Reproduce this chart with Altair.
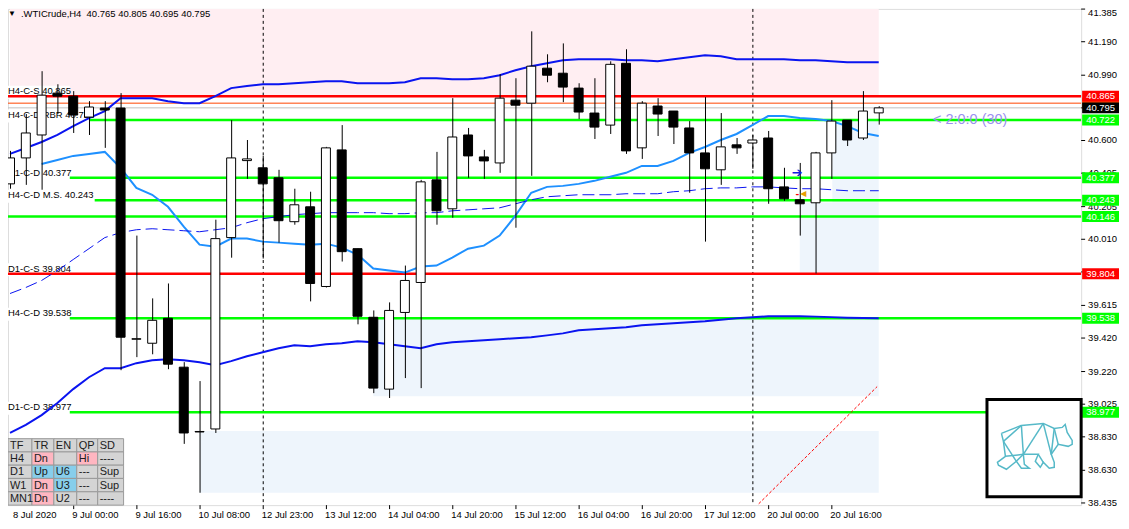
import altair as alt
import pandas as pd

# ---------------- chart data ----------------
bar_index = list(range(56))
opens = [40.341, 40.496, 40.633, 40.883, 40.865, 40.740, 40.794, 40.794, 39.413, 39.389,
         39.538, 39.246, 38.859, 38.877, 40.020, 40.480, 40.437, 40.377, 40.115, 40.204,
         39.728, 40.544, 39.954, 39.544, 39.115, 39.573, 39.752, 40.365, 40.192, 40.633,
         40.502, 40.466, 40.841, 40.823, 41.032, 41.002, 40.913, 40.764, 40.692, 41.061,
         40.556, 40.806, 40.776, 40.675, 40.526, 40.425, 40.574, 40.585, 40.615, 40.323,
         40.246, 40.228, 40.526, 40.722, 40.615, 40.765]
highs = [40.538, 40.758, 41.014, 40.936, 40.895, 40.835, 40.835, 40.883, 40.032, 39.657,
         39.746, 39.276, 39.163, 40.127, 40.722, 40.603, 40.508, 40.425, 40.312, 40.294,
         40.562, 40.692, 39.954, 39.585, 39.633, 39.853, 40.365, 40.532, 40.853, 40.675,
         40.544, 40.996, 40.972, 41.252, 41.115, 41.180, 40.942, 40.972, 41.073, 41.145,
         40.835, 40.853, 40.776, 40.716, 40.859, 40.764, 40.615, 40.633, 40.657, 40.437,
         40.466, 40.532, 40.841, 40.722, 40.895, 40.805]
lows = [40.312, 40.335, 40.306, 40.758, 40.645, 40.633, 40.556, 39.228, 39.306, 39.323,
        39.234, 38.788, 38.496, 38.853, 39.900, 40.371, 39.895, 39.990, 40.097, 39.639,
        39.722, 39.877, 39.502, 39.091, 39.062, 39.181, 39.121, 40.097, 40.139, 40.377,
        40.371, 40.407, 40.079, 40.389, 40.948, 40.829, 40.728, 40.609, 40.639, 40.520,
        40.490, 40.627, 40.579, 40.288, 39.996, 40.335, 40.520, 40.431, 40.222, 40.240,
        40.032, 39.806, 40.371, 40.567, 40.603, 40.695]
closes = [40.496, 40.645, 40.871, 40.865, 40.752, 40.800, 40.782, 39.425, 39.416, 39.526,
          39.264, 38.853, 38.862, 40.014, 40.496, 40.490, 40.341, 40.121, 40.216, 39.746,
          40.556, 39.936, 39.550, 39.121, 39.585, 39.764, 40.353, 40.180, 40.621, 40.508,
          40.478, 40.853, 40.811, 41.044, 40.990, 40.919, 40.770, 40.680, 41.055, 40.538,
          40.823, 40.758, 40.680, 40.526, 40.431, 40.562, 40.556, 40.603, 40.312, 40.252,
          40.222, 40.526, 40.716, 40.603, 40.776, 40.795]

upper_band = [40.520, 40.555, 40.591, 40.633, 40.686, 40.734, 40.776, 40.853, 40.853, 40.853,
              40.835, 40.823, 40.823, 40.865, 40.913, 40.925, 40.936, 40.936, 40.942, 40.948,
              40.954, 40.954, 40.942, 40.942, 40.942, 40.948, 40.972, 40.972, 40.966, 40.966,
              40.972, 40.990, 41.020, 41.044, 41.061, 41.079, 41.085, 41.085, 41.085, 41.079,
              41.079, 41.073, 41.085, 41.097, 41.109, 41.103, 41.085, 41.085, 41.085, 41.085,
              41.079, 41.079, 41.073, 41.067, 41.067, 41.067]
lower_band = [38.853, 38.901, 38.960, 39.032, 39.115, 39.186, 39.240, 39.240, 39.270, 39.288,
              39.294, 39.288, 39.276, 39.258, 39.282, 39.311, 39.335, 39.359, 39.377, 39.371,
              39.383, 39.389, 39.401, 39.395, 39.383, 39.371, 39.359, 39.383, 39.395, 39.401,
              39.407, 39.413, 39.419, 39.425, 39.436, 39.448, 39.466, 39.472, 39.478, 39.484,
              39.496, 39.502, 39.508, 39.514, 39.520, 39.530, 39.538, 39.544, 39.550, 39.550,
              39.550, 39.548, 39.545, 39.542, 39.540, 39.538]
mid_band_index = list(range(2, 56))
mid_band = [40.460, 40.484, 40.508, 40.520, 40.532, 40.436, 40.317, 40.276, 40.204, 40.085,
            39.978, 39.966, 40.014, 40.014, 39.996, 39.990, 39.984, 39.978, 39.984, 39.960,
            39.919, 39.835, 39.823, 39.811, 39.847, 39.853, 39.901, 39.954, 39.972, 40.032,
            40.151, 40.288, 40.323, 40.329, 40.341, 40.359, 40.383, 40.407, 40.448, 40.448,
            40.478, 40.526, 40.561, 40.603, 40.639, 40.692, 40.746, 40.746, 40.734, 40.728,
            40.716, 40.686, 40.645, 40.627]
dashed_band = [39.686, 39.722, 39.764, 39.823, 39.889, 39.954, 40.020, 40.050, 40.067, 40.073,
               40.067, 40.061, 40.055, 40.067, 40.079, 40.109, 40.133, 40.145, 40.157, 40.163,
               40.169, 40.169, 40.169, 40.169, 40.163, 40.163, 40.169, 40.169, 40.180, 40.186,
               40.192, 40.198, 40.222, 40.246, 40.264, 40.270, 40.276, 40.276, 40.276, 40.282,
               40.282, 40.282, 40.294, 40.300, 40.312, 40.317, 40.317, 40.323, 40.323, 40.317,
               40.312, 40.312, 40.306, 40.300, 40.300, 40.300]

# horizontal levels
green_levels = [40.722, 40.377, 40.243, 40.146, 39.538, 38.977]
red_levels = [40.865, 39.804]
orange_level = [40.823]
bid_level = [40.795]

label_texts = ["H4-C-S 40.865", "H4-C-D RBR 40.722", "D1-C-D 40.377", "H4-C-D M.S. 40.243",
               "D1-C-S 39.804", "H4-C-D 39.538", "D1-C-D 38.977"]
label_prices = [40.865, 40.722, 40.377, 40.243, 39.804, 39.538, 38.977]

# price tags on the right axis (the orange one is almost hidden behind its neighbours)
tag_prices = [40.823, 40.865, 40.795, 40.722, 40.377, 40.243, 40.146, 39.804, 39.538, 38.977]
tag_colors = ["#FF4500", "#FF0000", "#000000", "#00FF00", "#00FF00", "#00FF00", "#00FF00",
              "#FF0000", "#00FF00", "#00FF00"]
tag_show_text = [False, True, True, True, True, True, True, True, True, True]

# zones (bar index start/end, price low/high)
zone_k0 = [0, 23, 12, 50, 52.06]
zone_k1 = [55, 55, 55, 55, 55]
zone_p0 = [40.865, 39.073, 38.496, 39.804, 40.230]
zone_p1 = [41.40, 39.538, 38.865, 40.230, 40.722]
zone_col = ["#FFEEF2", "#EEF5FC", "#EEF5FC", "#EEF5FC", "#EEF5FC"]

separator_index = [16, 47]
trend_index = [47.4, 54.9]
trend_price = [38.43, 39.13]

time_tick_index = [0, 4, 8, 12, 16, 20, 24, 28, 32, 36, 40, 44, 48, 52]
time_tick_labels = ["8 Jul 2020", "9 Jul 00:00", "9 Jul 16:00", "10 Jul 08:00", "12 Jul 23:00",
                    "13 Jul 12:00", "14 Jul 04:00", "14 Jul 20:00", "15 Jul 12:00",
                    "16 Jul 04:00", "16 Jul 20:00", "17 Jul 12:00", "20 Jul 00:00",
                    "20 Jul 16:00"]
price_ticks = [41.385, 41.190, 40.990, 40.795, 40.600, 40.405, 40.205, 40.010, 39.815, 39.615,
               39.420, 39.220, 39.025, 38.830, 38.630, 38.435]

table_header = ["TF", "TR", "EN", "QP", "SD"]
table_rows = [["H4", "Dn", "", "Hi", "----"],
              ["D1", "Up", "U6", "---", "Sup"],
              ["W1", "Dn", "U3", "---", "Sup"],
              ["MN1", "Dn", "U2", "---", "----"]]
table_colors = [["g", "p", "g", "p", "g"],
                ["g", "b", "b", "g", "g"],
                ["g", "p", "b", "g", "g"],
                ["g", "p", "g", "g", "g"]]

title_text = ".WTICrude,H4\u00a0 40.765 40.805 40.695 40.795"

# bear logo outline (box-local units)
bear_paths = [
    [(15, 34), (35, 26), (57, 24), (68, 29), (76, 28), (79, 25), (81, 33), (86, 41), (86, 45),
     (82, 47), (72, 45), (65, 55), (68, 63), (68, 68), (63, 69), (57, 63), (54, 68), (49, 62),
     (52, 55), (37, 55), (38, 65), (43, 69), (35, 69), (30, 62), (20, 70), (12, 66), (11, 63),
     (19, 57), (17, 42), (15, 34)],
    [(35, 26), (37, 55)], [(57, 24), (37, 55)], [(57, 24), (65, 55)], [(68, 29), (72, 45)],
    [(68, 29), (65, 55)], [(17, 42), (35, 26)], [(19, 57), (37, 55)], [(17, 42), (30, 62)],
    [(52, 55), (57, 63)], [(37, 55), (30, 62)],
]

# ---------------- layout ----------------
W, H = 1077, 498
FONT = "Liberation Sans"
xs = alt.Scale(domain=[0.1875, 67.5], nice=False, zero=False)
ys = alt.Scale(domain=[38.422, 41.386], nice=False, zero=False)


def X(f):
    return alt.X(f, type="quantitative", scale=xs, axis=None)


def Y(f):
    return alt.Y(f, type="quantitative", scale=ys, axis=None)


candles = pd.DataFrame({"k": bar_index, "open": opens, "high": highs, "low": lows,
                        "close": closes})
candles["fill"] = ["#FFFFFF" if c >= o else "#000000" for o, c in zip(opens, closes)]

zones = pd.DataFrame({"k0": zone_k0, "k1": zone_k1, "p0": zone_p0, "p1": zone_p1,
                      "col": zone_col})
zone_layer = alt.Chart(zones).mark_rect(clip=True).encode(
    x=X("k0"), x2=alt.X2("k1"), y=Y("p0"), y2=alt.Y2("p1"),
    color=alt.Color("col:N", scale=None))

# right price axis drawn as marks (ticks + labels), behind the tags
pt = pd.DataFrame({"p": price_ticks, "t": [f"{v:.3f}" for v in price_ticks]})
pt["top"] = [v == max(price_ticks) for v in price_ticks]
ptick_layer = alt.Chart(pt).mark_rule(color="black", strokeWidth=1).encode(
    y=Y("p"), x=alt.value(W), x2=alt.value(W + 4))
plabel_layer = alt.Chart(pt[~pt["top"]]).mark_text(
    align="left", baseline="middle", font=FONT, fontSize=9.5, color="black").encode(
    y=Y("p"), x=alt.value(W + 7), text="t:N")
plabel_top = alt.Chart(pt[pt["top"]]).mark_text(
    align="left", baseline="top", dy=-1, font=FONT, fontSize=9.5, color="black").encode(
    y=Y("p"), x=alt.value(W + 7), text="t:N")

sep_layer = alt.Chart(pd.DataFrame({"k": separator_index})).mark_rule(
    color="black", strokeWidth=1, strokeDash=[3, 3], xOffset=0.5).encode(
    x=X("k"), y=alt.value(0), y2=alt.value(H))


def hlines(prices, color, width):
    return alt.Chart(pd.DataFrame({"p": prices})).mark_rule(
        color=color, strokeWidth=width).encode(y=Y("p"), x=alt.value(0), x2=alt.value(W))


thin_layers = [hlines(orange_level, "#FF4500", 1), hlines(bid_level, "#C0C0C0", 1),
               hlines(green_levels, "#00FF00", 2.5)]

label_layers = []
for t, p in zip(label_texts, label_prices):
    d = pd.DataFrame({"p": [p], "t": [t]})
    label_layers.append(alt.Chart(d).mark_rule(color="white", strokeWidth=13, yOffset=-4).encode(
        y=Y("p"), x=alt.value(0), x2=alt.value(len(t) * 5 - 3)))
    label_layers.append(alt.Chart(d).mark_text(
        align="left", baseline="alphabetic", dy=-2, font=FONT, fontSize=9.5, color="black").encode(
        y=Y("p"), x=alt.value(0), text="t:N"))

red_layer = hlines(red_levels, "#FF0000", 2.5)

bands = pd.DataFrame({"k": bar_index, "up": upper_band, "lo": lower_band, "da": dashed_band})
mid = pd.DataFrame({"k": mid_band_index, "mi": mid_band})
band_layers = [
    alt.Chart(bands).mark_line(color="#0A14F0", strokeWidth=2, clip=True).encode(x=X("k"), y=Y("up")),
    alt.Chart(bands).mark_line(color="#0A14F0", strokeWidth=2, clip=True).encode(x=X("k"), y=Y("lo")),
    alt.Chart(mid).mark_line(color="#1E90FF", strokeWidth=2, clip=True).encode(x=X("k"), y=Y("mi")),
    alt.Chart(bands).mark_line(color="#0A14F0", strokeWidth=1, strokeDash=[12, 5], clip=True).encode(
        x=X("k"), y=Y("da")),
]

wick_layer = alt.Chart(candles).mark_rule(color="black", strokeWidth=1, xOffset=0.5, clip=True).encode(
    x=X("k"), y=Y("low"), y2=alt.Y2("high"))
body_layer = alt.Chart(candles).mark_bar(size=9, stroke="black", strokeWidth=1, clip=True).encode(
    x=X("k"), y=Y("open"), y2=alt.Y2("close"), fill=alt.Fill("fill:N", scale=None))

trend_layer = alt.Chart(pd.DataFrame({"k": trend_index, "p": trend_price})).mark_line(
    color="#FF0000", strokeWidth=1, strokeDash=[3, 2], clip=True).encode(x=X("k"), y=Y("p"))

marker_layer = alt.Chart(pd.DataFrame({
    "k": [49.84, 50.22, 49.85], "p": [40.404, 40.279, 40.279], "t": ["\u2794", "\u25c0", "-"],
    "c": ["#1020E0", "#E8A000", "#FF0000"], "s": [13, 8, 9]})).mark_text(
    font="DejaVu Sans", fontWeight="bold").encode(
    x=X("k"), y=Y("p"), text="t:N", color=alt.Color("c:N", scale=None),
    size=alt.Size("s:Q", scale=None))

note_layer = alt.Chart(pd.DataFrame({"k": [58.44], "p": [40.722], "t": ["< 2:0:0 (30)"]})).mark_text(
    align="left", baseline="middle", font=FONT, fontSize=14.5, color="#9D8FF0").encode(
    x=X("k"), y=Y("p"), text="t:N")

tags = pd.DataFrame({"p": tag_prices, "c": tag_colors,
                     "t": [f"{v:.3f}" if s else "" for v, s in zip(tag_prices, tag_show_text)]})
tag_box = alt.Chart(tags).mark_rule(strokeWidth=11).encode(
    y=Y("p"), x=alt.value(W + 1), x2=alt.value(W + 38), color=alt.Color("c:N", scale=None))
tag_text = alt.Chart(tags).mark_text(align="left", baseline="middle", font=FONT, fontSize=9.5,
                                     color="white").encode(y=Y("p"), x=alt.value(W + 5), text="t:N")

tick_df = pd.DataFrame({"k": time_tick_index[1:]})
tick_layer = alt.Chart(tick_df).mark_rule(color="black", xOffset=0.5).encode(
    x=X("k"), y=alt.value(H), y2=alt.value(H + 4))
time_df = pd.DataFrame({"k": [max(k, 0.25) for k in time_tick_index], "t": time_tick_labels})
time_layer = alt.Chart(time_df).mark_text(align="left", baseline="top", dx=-1, font=FONT,
                                          fontSize=9.5, color="black").encode(
    x=X("k"), y=alt.value(H + 5), text="t:N")

# table widget
col_edges = [0, 24, 46, 69, 90, 116]
row_edges = [431.3, 444.6, 457.9, 471.2, 484.6, 498]
palette = {"g": "#D4D4D4", "p": "#FFB6C1", "b": "#87CEEB"}
cells = []
all_rows = [table_header] + table_rows
all_cols = [["g"] * 5] + table_colors
for r, (row, crow) in enumerate(zip(all_rows, all_cols)):
    for c, (txt, cc) in enumerate(zip(row, crow)):
        cells.append({"x0": col_edges[c], "x1": col_edges[c + 1], "y0": row_edges[r],
                      "y1": row_edges[r + 1], "fill": palette[cc], "t": txt,
                      "tx": col_edges[c] + 2, "ty": (row_edges[r] + row_edges[r + 1]) / 2 + 0.5})
cells = pd.DataFrame(cells)
table_rect = alt.Chart(cells).mark_rect(stroke="#9A9A9A", strokeWidth=1).encode(
    x=alt.X("x0:Q", scale=None, axis=None), x2="x1:Q",
    y=alt.Y("y0:Q", scale=None, axis=None), y2="y1:Q",
    fill=alt.Fill("fill:N", scale=None))
table_text = alt.Chart(cells).mark_text(align="left", baseline="middle", font=FONT, fontSize=11,
                                        color="#202020").encode(
    x=alt.X("tx:Q", scale=None, axis=None), y=alt.Y("ty:Q", scale=None, axis=None), text="t:N")

# bear logo box
BX, BY = 982, 392
logo_box = alt.Chart(pd.DataFrame({"a": [0]})).mark_rect(
    fill="white", stroke="black", strokeWidth=3).encode(
    x=alt.value(BX + 0.5), x2=alt.value(W), y=alt.value(BY), y2=alt.value(BY + 97.5))
bear_rows = []
for s, path in enumerate(bear_paths):
    for o, (bx, by) in enumerate(path):
        bear_rows.append({"seg": s, "o": o, "px": BX + bx, "py": BY + by})
bear_layer = alt.Chart(pd.DataFrame(bear_rows)).mark_line(
    color="#56B9C8", strokeWidth=1.5).encode(
    x=alt.X("px:Q", scale=None, axis=None), y=alt.Y("py:Q", scale=None, axis=None),
    detail="seg:N", order="o:Q")

title_layer = alt.Chart(pd.DataFrame({"t": [title_text]})).mark_text(
    align="left", baseline="middle", font=FONT, fontSize=9.5, color="black").encode(
    x=alt.value(13), y=alt.value(5), text="t:N")
tri_layer = alt.Chart(pd.DataFrame({"t": ["\u25bc"]})).mark_text(
    align="center", baseline="middle", fontSize=8, color="black").encode(
    x=alt.value(4), y=alt.value(5), text="t:N")

chart = alt.layer(
    zone_layer, ptick_layer, plabel_layer, plabel_top, sep_layer, *thin_layers, *label_layers,
    red_layer, *band_layers, wick_layer, body_layer, trend_layer, marker_layer, note_layer,
    tag_box, tag_text, tick_layer, time_layer, table_rect, table_text, logo_box, bear_layer,
    title_layer, tri_layer
).properties(
    width=W, height=H, autosize=alt.AutoSizeParams(type="none"),
    padding={"left": 0, "top": 0, "right": 40, "bottom": 14}, background="white"
).configure_view(stroke="black", strokeWidth=1).configure(font=FONT)

chart.save("out.html", embed_options={"renderer": "svg", "actions": False})
